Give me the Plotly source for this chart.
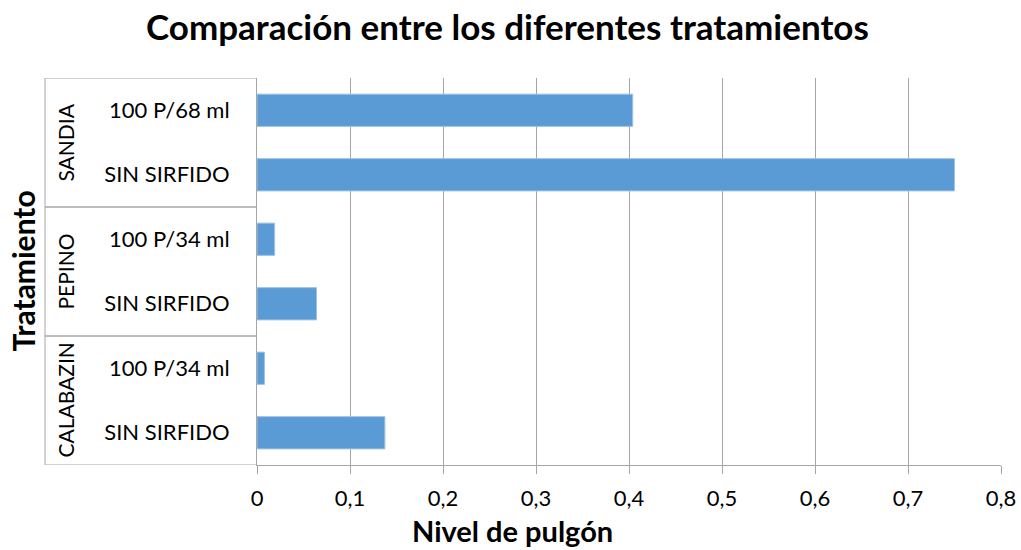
import plotly.graph_objects as go

# Data, listed bottom to top as drawn on the axis
grupos = ["CALABAZIN", "CALABAZIN", "PEPINO", "PEPINO", "SANDIA", "SANDIA"]
tratamientos = ["SIN SIRFIDO", "100 P/34 ml", "SIN SIRFIDO", "100 P/34 ml", "SIN SIRFIDO", "100 P/68 ml"]
nivel_pulgon = [0.1375, 0.008, 0.064, 0.019, 0.75, 0.404]
x_ticks = [0, 0.1, 0.2, 0.3, 0.4, 0.5, 0.6, 0.7, 0.8]
x_ticktext = ["0", "0,1", "0,2", "0,3", "0,4", "0,5", "0,6", "0,7", "0,8"]

FONT = "Lato"
TEXT = "#000000"
LINE = "#A6A6A6"

posiciones = list(range(len(tratamientos)))

fig = go.Figure(
    go.Bar(
        x=nivel_pulgon,
        y=posiciones,
        orientation="h",
        marker=dict(color="#5B9BD5", line=dict(color="#9DC3E6", width=1)),
        width=0.5,
        hoverinfo="x",
    )
)

W, H = 1021, 550
ML, MR, MT, MB = 257, 20, 78, 85

fig.update_layout(
    width=W,
    height=H,
    margin=dict(l=ML, r=MR, t=MT, b=MB),
    paper_bgcolor="white",
    plot_bgcolor="white",
    showlegend=False,
    font=dict(family=FONT, color=TEXT),
    title=dict(
        text="<b>Comparación entre los diferentes tratamientos</b>",
        x=0.497,
        xanchor="center",
        y=0.95,
        yanchor="middle",
        font=dict(size=35, family=FONT, color=TEXT),
    ),
)

fig.update_xaxes(
    range=[0, 0.8],
    tickvals=x_ticks,
    ticktext=x_ticktext,
    tickfont=dict(size=22, family=FONT, color=TEXT),
    showgrid=True,
    gridcolor=LINE,
    gridwidth=1,
    showline=True,
    linecolor=LINE,
    linewidth=1,
    ticks="outside",
    ticklen=8,
    tickcolor=LINE,
    zeroline=False,
    ticklabelstandoff=6,
    automargin=False,
)

fig.update_yaxes(
    range=[-0.5, len(tratamientos) - 0.5],
    tickvals=posiciones,
    ticktext=tratamientos,
    tickfont=dict(size=22, family=FONT, color=TEXT),
    showgrid=False,
    showline=True,
    linecolor=LINE,
    linewidth=1,
    ticks="",
    zeroline=False,
    ticklabelstandoff=22,
    automargin=False,
)

# Group labels (outer category level) and their dividers
x_left = -(ML - 45) / (W - ML - MR)
orden = []
for g in grupos:
    if g not in orden:
        orden.append(g)
for g in orden:
    idx = [i for i, v in enumerate(grupos) if v == g]
    lo, hi = min(idx) - 0.5, max(idx) + 0.5
    fig.add_annotation(
        x=-(ML - 65) / (W - ML - MR),
        xref="paper",
        y=(lo + hi) / 2,
        yref="y",
        text=g,
        textangle=-90,
        showarrow=False,
        font=dict(size=21, family=FONT, color=TEXT),
        xanchor="center",
        yanchor="middle",
    )
    for yb in (lo, hi):
        fig.add_shape(
            type="line",
            xref="paper",
            yref="y",
            x0=x_left,
            x1=0,
            y0=yb,
            y1=yb,
            line=dict(color=LINE, width=1),
            layer="below",
        )
fig.add_shape(
    type="line",
    xref="paper",
    yref="y",
    x0=x_left,
    x1=x_left,
    y0=-0.5,
    y1=len(tratamientos) - 0.5,
    line=dict(color=LINE, width=1),
)

# Axis titles
fig.add_annotation(
    text="<b>Nivel de pulgón</b>",
    x=(512 - ML) / (W - ML - MR),
    xref="paper",
    y=-(530 - (H - MB)) / (H - MT - MB),
    yref="paper",
    yanchor="middle",
    xanchor="center",
    showarrow=False,
    font=dict(size=29, family=FONT, color=TEXT),
)
fig.add_annotation(
    text="<b>Tratamiento</b>",
    x=-(ML - 22) / (W - ML - MR),
    xref="paper",
    y=0.5,
    yref="paper",
    textangle=-90,
    xanchor="center",
    yanchor="middle",
    showarrow=False,
    font=dict(size=30, family=FONT, color=TEXT),
)

fig.write_html("out.html")
